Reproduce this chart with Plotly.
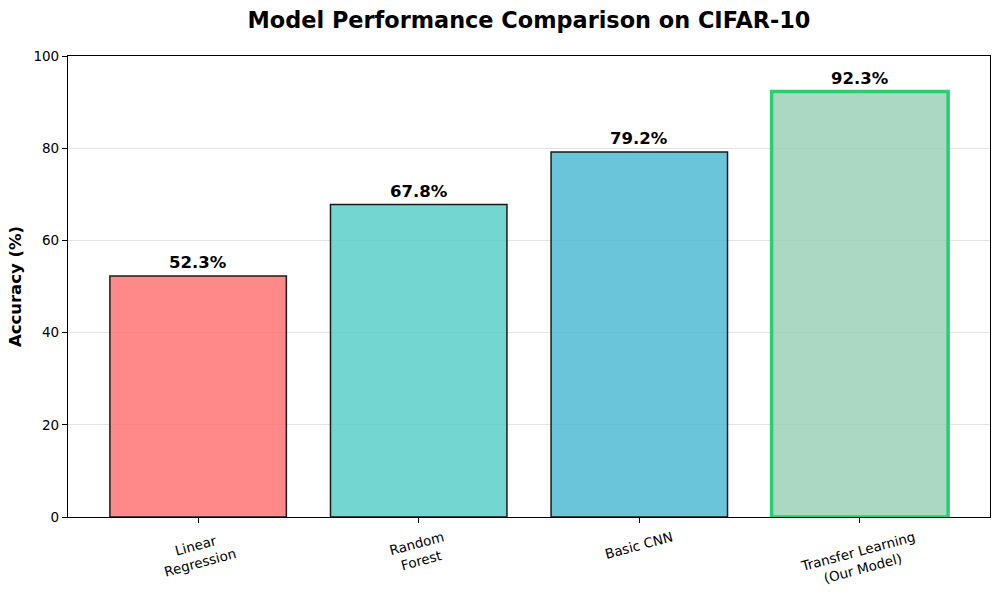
import plotly.graph_objects as go

categories = ["Linear<br>Regression", "Random<br>Forest", "Basic CNN", "Transfer Learning<br>(Our Model)"]
accuracy = [52.3, 67.8, 79.2, 92.3]
fill_colors = ["rgba(255,107,107,0.8)", "rgba(78,205,196,0.8)", "rgba(69,183,209,0.8)", "rgba(150,206,180,0.8)"]
edge_colors = ["#1a1a1a", "#1a1a1a", "#1a1a1a", "#2ecc71"]
edge_widths = [1.5, 1.5, 1.5, 3.5]
value_labels = [f"{v:.1f}%" for v in accuracy]
y_ticks = [0, 20, 40, 60, 80, 100]

FONT = "DejaVu Sans"
L, R, T, B = 68, 10, 56, 81
PLOT_H = 598 - T - B

fig = go.Figure()
fig.add_trace(go.Bar(
    x=list(range(len(categories))),
    y=accuracy,
    width=0.8,
    marker=dict(color=fill_colors, line=dict(color=edge_colors, width=edge_widths)),
    hoverinfo="skip",
))

for i, (v, lab) in enumerate(zip(accuracy, value_labels)):
    fig.add_annotation(x=i, y=v + 0.4, text=f"<b>{lab}</b>", showarrow=False,
                       yanchor="bottom", xanchor="center",
                       font=dict(family=FONT, size=16.5, color="black"))

# rotated, centred category labels below the x axis
for i, cat in enumerate(categories):
    fig.add_annotation(x=i, xref="x", y=-9 / PLOT_H, yref="paper", text=cat,
                       showarrow=False, textangle=-15, xanchor="center", yanchor="top",
                       align="center", font=dict(family=FONT, size=13.5, color="black"))

fig.update_layout(
    width=1000, height=598,
    margin=dict(l=L, r=R, t=T, b=B),
    paper_bgcolor="white", plot_bgcolor="white",
    showlegend=False,
    title=dict(text="<b>Model Performance Comparison on CIFAR-10</b>",
               x=(68 + 990) / 2 / 1000, xanchor="center", y=1 - 20 / 598, yanchor="middle",
               font=dict(family=FONT, size=22.4, color="black")),
    font=dict(family=FONT, color="black"),
)
fig.update_xaxes(
    range=[-0.59, 3.59], automargin=False,
    tickmode="array", tickvals=list(range(len(categories))), ticktext=["" for _ in categories],
    ticks="outside", ticklen=5, tickcolor="black",
    showline=True, linecolor="black", linewidth=1.2, mirror=True,
    showgrid=False, zeroline=False,
)
fig.update_yaxes(
    range=[0, 100], automargin=False,
    tickmode="array", tickvals=y_ticks,
    tickfont=dict(family=FONT, size=13.5, color="black"),
    ticks="outside", ticklen=5, tickcolor="black",
    showline=True, linecolor="black", linewidth=1.2, mirror=True,
    showgrid=True, gridcolor="#e3e3e3", gridwidth=1, zeroline=False,
    title=dict(text="<b>Accuracy (%)</b>", font=dict(family=FONT, size=16.5, color="black"), standoff=7),
)

fig.write_html("out.html", config={"displayModeBar": False})

# remove the default page margin so the figure sits at the window's top-left corner
with open("out.html", "r", encoding="utf-8") as f:
    html = f.read()
html = html.replace("<head>", "<head><style>html,body{margin:0;padding:0;overflow:hidden;}</style>", 1)
with open("out.html", "w", encoding="utf-8") as f:
    f.write(html)
